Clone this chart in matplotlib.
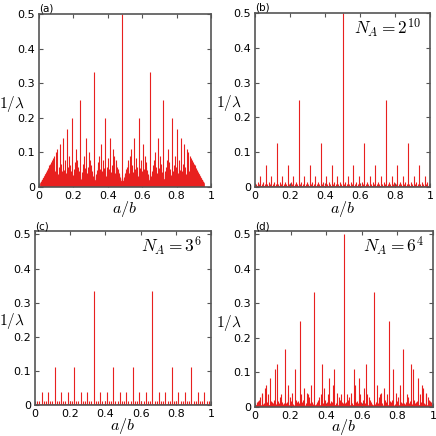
import math
import numpy as np
import matplotlib
matplotlib.use('Agg')
import matplotlib.pyplot as plt

###############################################################################
# data:

# panel (a): every reduced fraction a/b up to this denominator
max_denominator_a = 100
# (a) is drawn slightly compressed along a/b in the original
x_scale_a = 0.965

# panels (b)-(d): the size of the register
n_a_values = [2**10, 3**6, 6**4]
n_a_labels = [r'$N_A = 2^{10}$', r'$N_A = 3^{6}$', r'$N_A = 6^{4}$']
panel_tags = ['(a)', '(b)', '(c)', '(d)']

x_ticks = [0, 0.2, 0.4, 0.6, 0.8, 1.0]
x_tick_labels = ['0', '0.2', '0.4', '0.6', '0.8', '1']
y_ticks = [0, 0.1, 0.2, 0.3, 0.4, 0.5]
y_tick_labels = ['0', '0.1', '0.2', '0.3', '0.4', '0.5']


def farey_stems(bmax):
    xs, hs = [], []
    for b in range(2, bmax + 1):
        for a in range(1, b):
            if math.gcd(a, b) == 1:
                xs.append(a / b)
                hs.append(1.0 / b)
    return np.array(xs), np.array(hs)


def register_stems(n):
    k = np.arange(1, n)
    g = np.gcd(k, n)
    return k / n, g / n


###############################################################################
# plot:

plt.rcParams['mathtext.fontset'] = 'cm'
plt.rcParams['font.family'] = ['Liberation Sans Narrow', 'DejaVu Sans']

red = '#e8201f'
spine_col = '#555555'

fig = plt.figure(figsize=(4.36, 4.36), dpi=100)

# axes boxes in pixels (left, right, bottom, top), from the picture
boxes = [(39, 211, 187, 14), (255, 430, 187, 13),
         (35, 211, 405, 231), (255, 433, 407, 231)]
ylims = [0.5, 0.5, 0.51, 0.51]
ylab_x = [12, 229, 12, 229]
xlab_dy = [22, 22, 21, 20]

for i, (l, r, b, t) in enumerate(boxes):
    w, h = r - l, b - t
    ax = fig.add_axes([l / 436, 1 - b / 436, w / 436, h / 436])
    if i == 0:
        xs, hs = farey_stems(max_denominator_a)
        xs = xs * x_scale_a
    else:
        xs, hs = register_stems(n_a_values[i - 1])
        ax.text(1 - 9 / w, 1 - 4 / h, n_a_labels[i - 1], transform=ax.transAxes,
                ha='right', va='top', fontsize=12.5)
    ax.vlines(xs, 0, hs, color=red, lw=0.8)

    ax.set_xlim(0, 1)
    ax.set_ylim(0, ylims[i])
    ax.set_xticks(x_ticks)
    ax.set_xticklabels(x_tick_labels)
    ax.set_yticks(y_ticks)
    ax.set_yticklabels(y_tick_labels)
    ax.tick_params(direction='in', top=True, right=True, length=3,
                   width=0.8, labelsize=8, color=spine_col, pad=3)
    for s in ax.spines.values():
        s.set_color(spine_col)
        s.set_linewidth(1.2)

    ax.set_xlabel(r'$a/b$', fontsize=11.5)
    ax.xaxis.set_label_coords(0.5, -xlab_dy[i] / h)
    ax.xaxis.label.set_va('center')
    ax.set_ylabel(r'$1/\lambda$', fontsize=11, rotation=0)
    ax.yaxis.set_label_coords((ylab_x[i] - l) / w, 0.48)
    ax.yaxis.label.set_va('center')
    ax.yaxis.label.set_ha('center')

    ax.text(0.0, 1.0, panel_tags[i], transform=ax.transAxes,
            ha='left', va='bottom', fontsize=7.5)

plt.savefig('out.png', dpi=100)
